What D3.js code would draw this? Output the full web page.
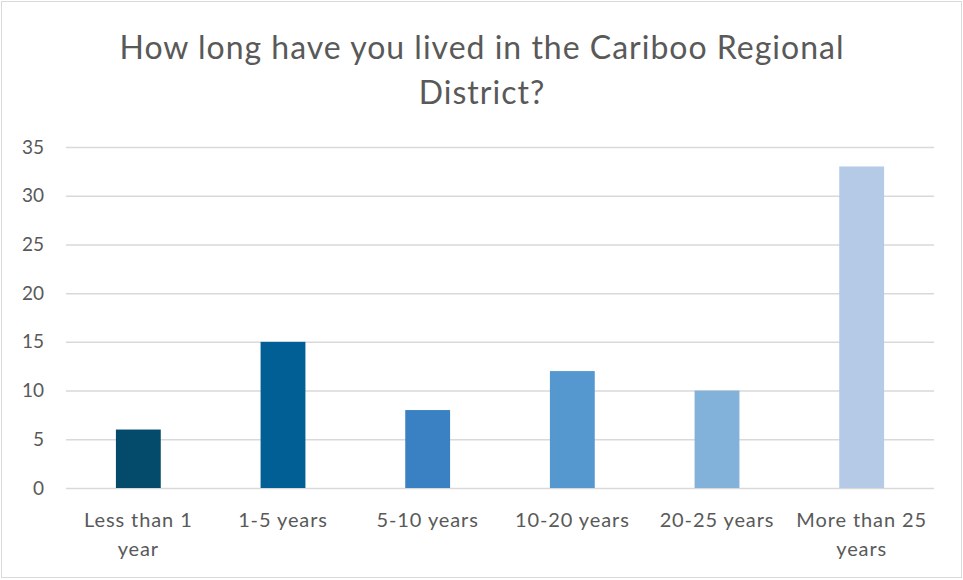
<!DOCTYPE html>
<html>
<head>
<meta charset="utf-8">
<script src="https://cdn.jsdelivr.net/npm/d3@7"></script>
<style>
  body { margin: 0; background: #fff; }
  text { font-family: "Lato", "Open Sans", sans-serif; fill: #595959; }
</style>
</head>
<body>
<svg width="963" height="580"></svg>
<script>
var categories = ["Less than 1 year", "1-5 years", "5-10 years", "10-20 years", "20-25 years", "More than 25 years"];
var counts = [6, 15, 8, 12, 10, 33];
var barColors = ["#044a6b", "#015f96", "#3a81c3", "#5597cf", "#82b1da", "#b4cae6"];
var yTicks = [0, 5, 10, 15, 20, 25, 30, 35];
var titleLines = ["How long have you lived in the Cariboo Regional", "District?"];
// wrapped axis labels, as in the picture
var labelLines = {
  "Less than 1 year": ["Less than 1", "year"],
  "More than 25 years": ["More than 25", "years"]
};

var data = categories.map(function(c, i) { return {cat: c, value: counts[i], color: barColors[i]}; });

var svg = d3.select("svg"),
    margin = {top: 147, right: 29, bottom: 92, left: 66},
    width = svg.attr("width") - margin.left - margin.right,
    height = svg.attr("height") - margin.top - margin.bottom,
    g = svg.append("g").attr("transform", "translate(" + margin.left + "," + margin.top + ")");

// chart frame
svg.append("rect")
    .attr("x", 1.5).attr("y", 1.5)
    .attr("width", 960).attr("height", 576)
    .attr("fill", "none")
    .attr("stroke", "#d9d9d9")
    .attr("stroke-width", 1);

svg.append("text")
    .attr("x", 482)
    .attr("y", 59)
    .attr("text-anchor", "middle")
    .style("font-size", "32px")
    .style("letter-spacing", "1px")
  .selectAll("tspan")
    .data(titleLines)
  .enter().append("tspan")
    .attr("x", 482)
    .attr("dy", function(d, i) { return i ? 45 : 0; })
    .text(function(d) { return d; });

var x = d3.scaleBand().domain(categories).range([0, width]).paddingInner(0.69).paddingOuter(0.345),
    y = d3.scaleLinear().domain([0, 35]).range([height, 0]);

// gridlines
g.append("g")
    .attr("class", "grid")
    .call(d3.axisLeft(y).tickValues(yTicks).tickSize(-width).tickFormat(""))
    .call(function(s) { s.select(".domain").remove(); })
    .selectAll("line")
    .attr("stroke", "#d9d9d9")
    .attr("stroke-width", 1.5);

// y tick labels
g.append("g")
    .attr("class", "axis axis--y")
    .call(d3.axisLeft(y).tickValues(yTicks).tickSize(0).tickPadding(22))
    .call(function(s) { s.select(".domain").remove(); })
    .selectAll("text")
    .style("font-size", "19px")
    .attr("fill", "#595959");

g.append("g").selectAll("rect")
    .data(data)
  .enter().append("rect")
    .attr("class", "bar")
    .attr("x", function(d) { return x(d.cat); })
    .attr("y", function(d) { return y(d.value); })
    .attr("width", x.bandwidth())
    .attr("height", function(d) { return height - y(d.value); })
    .attr("fill", function(d) { return d.color; });

// x axis labels
var xAxis = g.append("g")
    .attr("class", "axis axis--x")
    .attr("transform", "translate(0," + height + ")")
    .call(d3.axisBottom(x).tickSize(0).tickPadding(0));

xAxis.select(".domain").remove();

xAxis.selectAll(".tick text")
    .style("font-size", "20px")
    .style("letter-spacing", "0.9px")
    .attr("fill", "#595959")
    .attr("y", 39)
    .attr("dy", null)
    .each(function(d) {
      var t = d3.select(this),
          lines = labelLines[d] || [d];
      t.text(null);
      lines.forEach(function(l, i) {
        t.append("tspan").attr("x", 0).attr("dy", i ? 29 : 0).text(l);
      });
    });
</script>
</body>
</html>
